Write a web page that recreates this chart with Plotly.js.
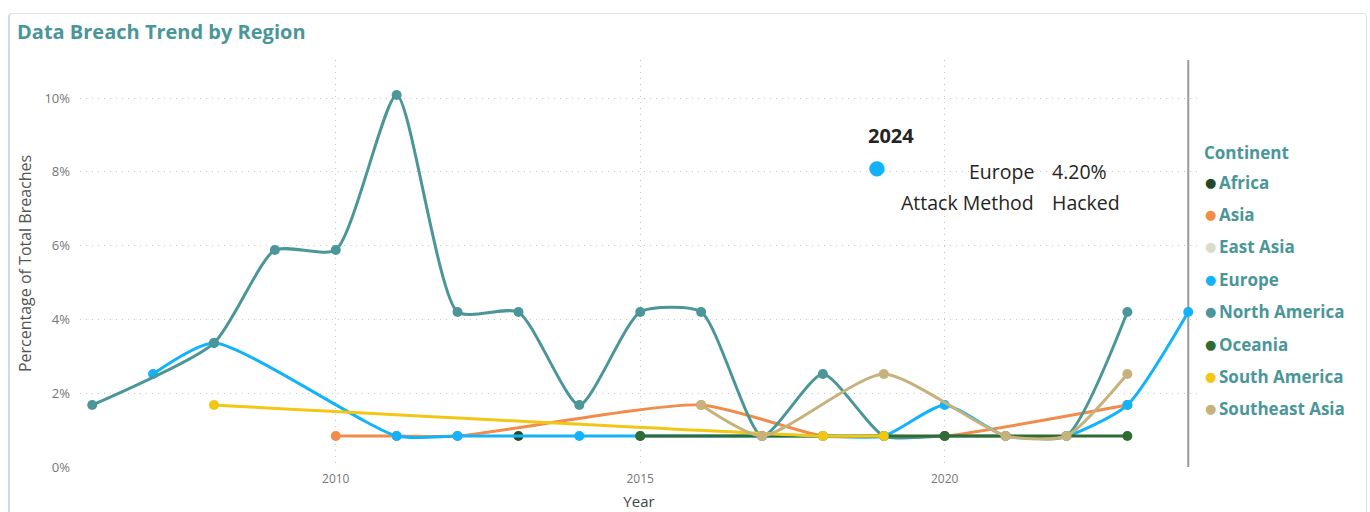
<!DOCTYPE html>
<html>
<head>
<meta charset="utf-8">
<script src="https://cdn.plot.ly/plotly-3.0.1.min.js"></script>
<style>
  html, body { margin: 0; padding: 0; background: #ffffff; }
  #card { position: absolute; left: 8px; top: 13px; width: 1356px; height: 520px;
          border: 1px solid #dde6e6; border-left: 2px solid #c9dede; border-radius: 4px; }
  #chart { position: absolute; left: 0; top: 0; width: 1370px; height: 512px; }
</style>
</head>
<body>
<div id="card"></div>
<div id="chart"></div>
<script>
// ---------- DATA ----------
const continents = ["Africa", "Asia", "East Asia", "Europe", "North America", "Oceania", "South America", "Southeast Asia"];
const continentColors = ["#1f4a25", "#f28c4a", "#dcdccb", "#12b3fa", "#4a9698", "#2f6b33", "#f2c714", "#c8b27c"];

const africaYears = [2013];
const africaVals  = [0.84];

const asiaYears = [2010, 2011, 2012, 2016, 2018, 2019, 2020, 2023];
const asiaVals  = [0.84, 0.84, 0.84, 1.68, 0.84, 0.84, 0.84, 1.68];

const eastAsiaYears = [2017];
const eastAsiaVals  = [0.84];

const europeYears = [2007, 2008, 2011, 2012, 2014, 2015, 2017, 2018, 2019, 2020, 2021, 2022, 2023, 2024];
const europeVals  = [2.52, 3.36, 0.84, 0.84, 0.84, 0.84, 0.84, 0.84, 0.84, 1.68, 0.84, 0.84, 1.68, 4.20];

const northAmericaYears = [2006, 2008, 2009, 2010, 2011, 2012, 2013, 2014, 2015, 2016, 2017, 2018, 2019, 2020, 2021, 2022, 2023];
const northAmericaVals  = [1.68, 3.36, 5.88, 5.88, 10.08, 4.20, 4.20, 1.68, 4.20, 4.20, 0.84, 2.52, 0.84, 0.84, 0.84, 0.84, 4.20];

const oceaniaYears = [2015, 2020, 2023];
const oceaniaVals  = [0.84, 0.84, 0.84];

const southAmericaYears = [2008, 2018, 2019];
const southAmericaVals  = [1.68, 0.84, 0.84];

const southeastAsiaYears = [2016, 2017, 2019, 2021, 2022, 2023];
const southeastAsiaVals  = [1.68, 0.84, 2.52, 0.84, 0.84, 2.52];

const yTicks = [0, 2, 4, 6, 8, 10];
const xTicks = [2010, 2015, 2020];

const tooltipMethod = "Hacked";

// ---------- BUILD ----------
const seriesYears = [africaYears, asiaYears, eastAsiaYears, europeYears, northAmericaYears, oceaniaYears, southAmericaYears, southeastAsiaYears];
const seriesVals  = [africaVals, asiaVals, eastAsiaVals, europeVals, northAmericaVals, oceaniaVals, southAmericaVals, southeastAsiaVals];

const traces = continents.map((name, i) => ({
  type: "scatter",
  mode: "lines+markers",
  name: name,
  x: seriesYears[i],
  y: seriesVals[i],
  line: { color: continentColors[i], width: 3, shape: "spline", smoothing: 0.6 },
  marker: { color: continentColors[i], size: 10 },
  showlegend: false,
  hoverinfo: "skip"
}));

const W = 1370, H = 512;
const M = { l: 80, r: 172, t: 60, b: 45 };
const plotW = W - M.l - M.r, plotH = H - M.t - M.b;
const px = v => (v - M.l) / plotW;
const py = v => (H - M.b - v) / plotH;

const teal = "#4a9698";
const annotations = [];

// Legend (built from categories)
annotations.push({ xref: "paper", yref: "paper", x: px(1202), y: py(153), xanchor: "left", yanchor: "middle",
  text: "<b>Continent</b>", showarrow: false, font: { family: "Open Sans, sans-serif", size: 17, color: teal } });
continents.forEach((name, i) => {
  const yy = py(182 + i * 32.4);
  annotations.push({ xref: "paper", yref: "paper", x: px(1203), y: yy, xanchor: "left", yanchor: "middle",
    text: "●", showarrow: false, font: { family: "DejaVu Sans, sans-serif", size: 13, color: continentColors[i] } });
  annotations.push({ xref: "paper", yref: "paper", x: px(1217), y: yy, xanchor: "left", yanchor: "middle",
    text: "<b>" + name + "</b>", showarrow: false, font: { family: "Open Sans, sans-serif", size: 17, color: teal } });
});

// Tooltip (from the last Europe value)
const tipIdx = continents.indexOf("Europe");
const tipYear = europeYears[europeYears.length - 1];
const tipVal = europeVals[europeVals.length - 1];
const tipFont = { family: "Open Sans, sans-serif", size: 19.5, color: "#252423" };
annotations.push({ xref: "paper", yref: "paper", x: px(866), y: py(135), xanchor: "left", yanchor: "middle",
  text: "<b>" + tipYear + "</b>", showarrow: false, font: { family: "Open Sans, sans-serif", size: 20, color: "#252423" } });
annotations.push({ xref: "paper", yref: "paper", x: px(866), y: py(167), xanchor: "left", yanchor: "middle",
  text: "●", showarrow: false, font: { family: "DejaVu Sans, sans-serif", size: 20, color: continentColors[tipIdx] } });
annotations.push({ xref: "paper", yref: "paper", x: px(1036), y: py(171), xanchor: "right", yanchor: "middle",
  text: continents[tipIdx], showarrow: false, font: tipFont });
annotations.push({ xref: "paper", yref: "paper", x: px(1050), y: py(171), xanchor: "left", yanchor: "middle",
  text: tipVal.toFixed(2) + "%", showarrow: false, font: tipFont });
annotations.push({ xref: "paper", yref: "paper", x: px(1036), y: py(202), xanchor: "right", yanchor: "middle",
  text: "Attack Method", showarrow: false, font: tipFont });
annotations.push({ xref: "paper", yref: "paper", x: px(1050), y: py(202), xanchor: "left", yanchor: "middle",
  text: tooltipMethod, showarrow: false, font: tipFont });

const layout = {
  width: W, height: H,
  margin: M,
  paper_bgcolor: "rgba(0,0,0,0)",
  plot_bgcolor: "rgba(0,0,0,0)",
  title: { text: "<b>Data Breach Trend by Region</b>", x: 17 / W, xanchor: "left", y: 1 - 32 / H, yanchor: "middle",
    font: { family: "Open Sans, sans-serif", size: 20, color: teal } },
  showlegend: false,
  xaxis: {
    range: [2005.8, 2024.16],
    tickvals: xTicks,
    ticktext: xTicks.map(String),
    showgrid: true, gridcolor: "#c8c8c8", griddash: "1px,5px", gridwidth: 1,
    zeroline: false, showline: false,
    ticklabelstandoff: 3,
    tickfont: { family: "Open Sans, sans-serif", size: 12, color: "#777777" },
    title: { text: "Year", standoff: 10, font: { family: "Open Sans, sans-serif", size: 15, color: "#444444" } }
  },
  yaxis: {
    range: [0, 11.03],
    tickvals: yTicks,
    ticktext: yTicks.map(v => v + "%"),
    showgrid: true, gridcolor: "#c8c8c8", griddash: "1px,5px", gridwidth: 1,
    zeroline: false, showline: false,
    ticklabelstandoff: 9,
    tickfont: { family: "Open Sans, sans-serif", size: 13, color: "#777777" },
    title: { text: "Percentage of Total Breaches", standoff: 8, font: { family: "Open Sans, sans-serif", size: 16, color: "#555555" } }
  },
  shapes: [{
    type: "line", xref: "x", yref: "paper", x0: tipYear, x1: tipYear, y0: 0, y1: 1,
    line: { color: "#9a9a9a", width: 2 }, layer: "below"
  }],
  annotations: annotations
};

Plotly.newPlot("chart", traces, layout, { displayModeBar: false, responsive: false });
</script>
</body>
</html>
